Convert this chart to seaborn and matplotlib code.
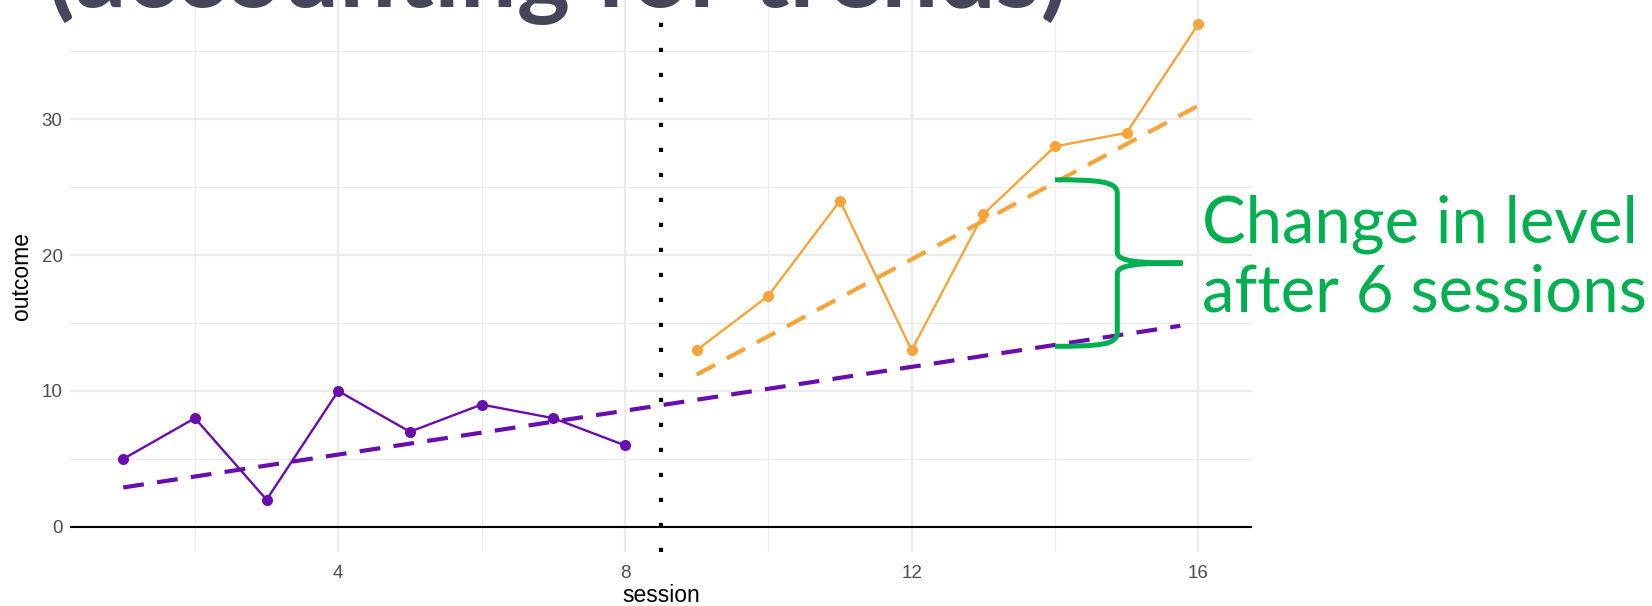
import numpy as np
import pandas as pd
import matplotlib
matplotlib.use("Agg")
import matplotlib.pyplot as plt
from matplotlib.path import Path
from matplotlib.patches import PathPatch
import seaborn as sns

# observed outcome per session, baseline phase and treatment phase
baseline_sessions = [1, 2, 3, 4, 5, 6, 7, 8]
baseline_outcome = [5, 8, 2, 10, 7, 9, 8, 6]
treat_sessions = [9, 10, 11, 12, 13, 14, 15, 16]
treat_outcome = [13, 17, 24, 13, 23, 28, 29, 37]

# trend lines (end points)
baseline_trend_x = [1, 15.75]
baseline_trend_y = [2.9, 14.8]
treat_trend_x = [9, 16]
treat_trend_y = [11.2, 31.0]

phase_change = 8.5
compare_session = 14
x_ticks = [4, 8, 12, 16]
y_ticks = [0, 10, 20, 30]

title_text = "(accounting for trends)"
note_lines = ["Change in level", "after 6 sessions"]

purple = "#6a0dad"
orange = "#f9a43a"
green = "#00b050"

sns.set_theme(style="white")
plt.rcParams["font.family"] = ["Liberation Sans", "DejaVu Sans"]

fig = plt.figure(figsize=(16.52, 6.06), dpi=100)
ax = fig.add_axes([69.5 / 1652, 54 / 606, (1252 - 69.5) / 1652, 553 / 606])

base_df = pd.DataFrame({"session": baseline_sessions, "outcome": baseline_outcome})
treat_df = pd.DataFrame({"session": treat_sessions, "outcome": treat_outcome})

# grid like theme_minimal
ax.set_xticks([2, 6, 10, 14], minor=True)
ax.set_yticks([5, 15, 25, 35], minor=True)
ax.grid(True, which="major", color="#ebebeb", linewidth=1.6)
ax.grid(True, which="minor", color="#ebebeb", linewidth=0.8)
ax.set_axisbelow(True)

ax.axhline(0, color="black", linewidth=1.5, zorder=1)
ax.axvline(phase_change, color="black", linewidth=3, linestyle=(0, (1, 5)), zorder=2)

sns.lineplot(x=baseline_trend_x, y=baseline_trend_y, ax=ax, color=purple,
             linewidth=3, linestyle=(0, (5, 3.2)), zorder=3)
sns.lineplot(x=treat_trend_x, y=treat_trend_y, ax=ax, color=orange,
             linewidth=3, linestyle=(0, (5, 3.2)), zorder=3)

sns.lineplot(data=base_df, x="session", y="outcome", ax=ax, color=purple,
             linewidth=1.7, marker="o", markersize=8, markeredgewidth=0, zorder=4)
sns.lineplot(data=treat_df, x="session", y="outcome", ax=ax, color=orange,
             linewidth=1.7, marker="o", markersize=8, markeredgewidth=0, zorder=4)

ax.set_xlim(0.25, 16.75)
ax.set_ylim(-1.85, 38.85)
ax.set_xticks(x_ticks)
ax.set_yticks(y_ticks)
ax.tick_params(axis="both", which="both", length=0, labelsize=13.5, labelcolor="#4d4d4d")
ax.tick_params(axis="x", pad=9)
ax.tick_params(axis="y", pad=5)
ax.set_xlabel("session", fontsize=16.5, color="black", labelpad=2)
ax.set_ylabel("outcome", fontsize=16.5, color="black", labelpad=6)
for s in ax.spines.values():
    s.set_visible(False)

# curly brace between the two trends at session 14
top = np.interp(compare_session, treat_trend_x, treat_trend_y) + 0.2
bot = np.interp(compare_session, baseline_trend_x, baseline_trend_y) - 0.1
mid = (top + bot) / 2
x0 = compare_session
xv = x0 + 0.87
xt = x0 + 1.78
verts = [
    (x0, top), (x0 + 0.6, top), (xv, top - 0.1), (xv, top - 1.0),
    (xv, mid + 0.8),
    (xv, mid + 0.1), (xv + 0.3, mid), (xt, mid),
    (xv + 0.3, mid), (xv, mid - 0.1), (xv, mid - 0.8),
    (xv, bot + 1.0),
    (xv, bot + 0.1), (x0 + 0.6, bot), (x0, bot),
]
codes = [Path.MOVETO, Path.CURVE4, Path.CURVE4, Path.CURVE4,
         Path.LINETO,
         Path.CURVE4, Path.CURVE4, Path.CURVE4,
         Path.CURVE4, Path.CURVE4, Path.CURVE4,
         Path.LINETO,
         Path.CURVE4, Path.CURVE4, Path.CURVE4]
ax.add_patch(PathPatch(Path(verts, codes), facecolor="none", edgecolor=green,
                       linewidth=3.6, capstyle="butt", clip_on=False, zorder=5))

for line, base_px in zip(note_lines, [243, 311]):
    fig.text(1202 / 1652, (606 - base_px) / 606, line, color=green, fontsize=47,
             family=["Lato", "DejaVu Sans"], ha="left", va="baseline")

# slide title, cut off at the top edge
fig.text(47 / 1652, (606 - 7) / 606, title_text, color="#45465a", fontsize=73,
         family=["Lato", "DejaVu Sans"], weight="bold", ha="left", va="baseline")

fig.savefig("out.png", dpi=100)
